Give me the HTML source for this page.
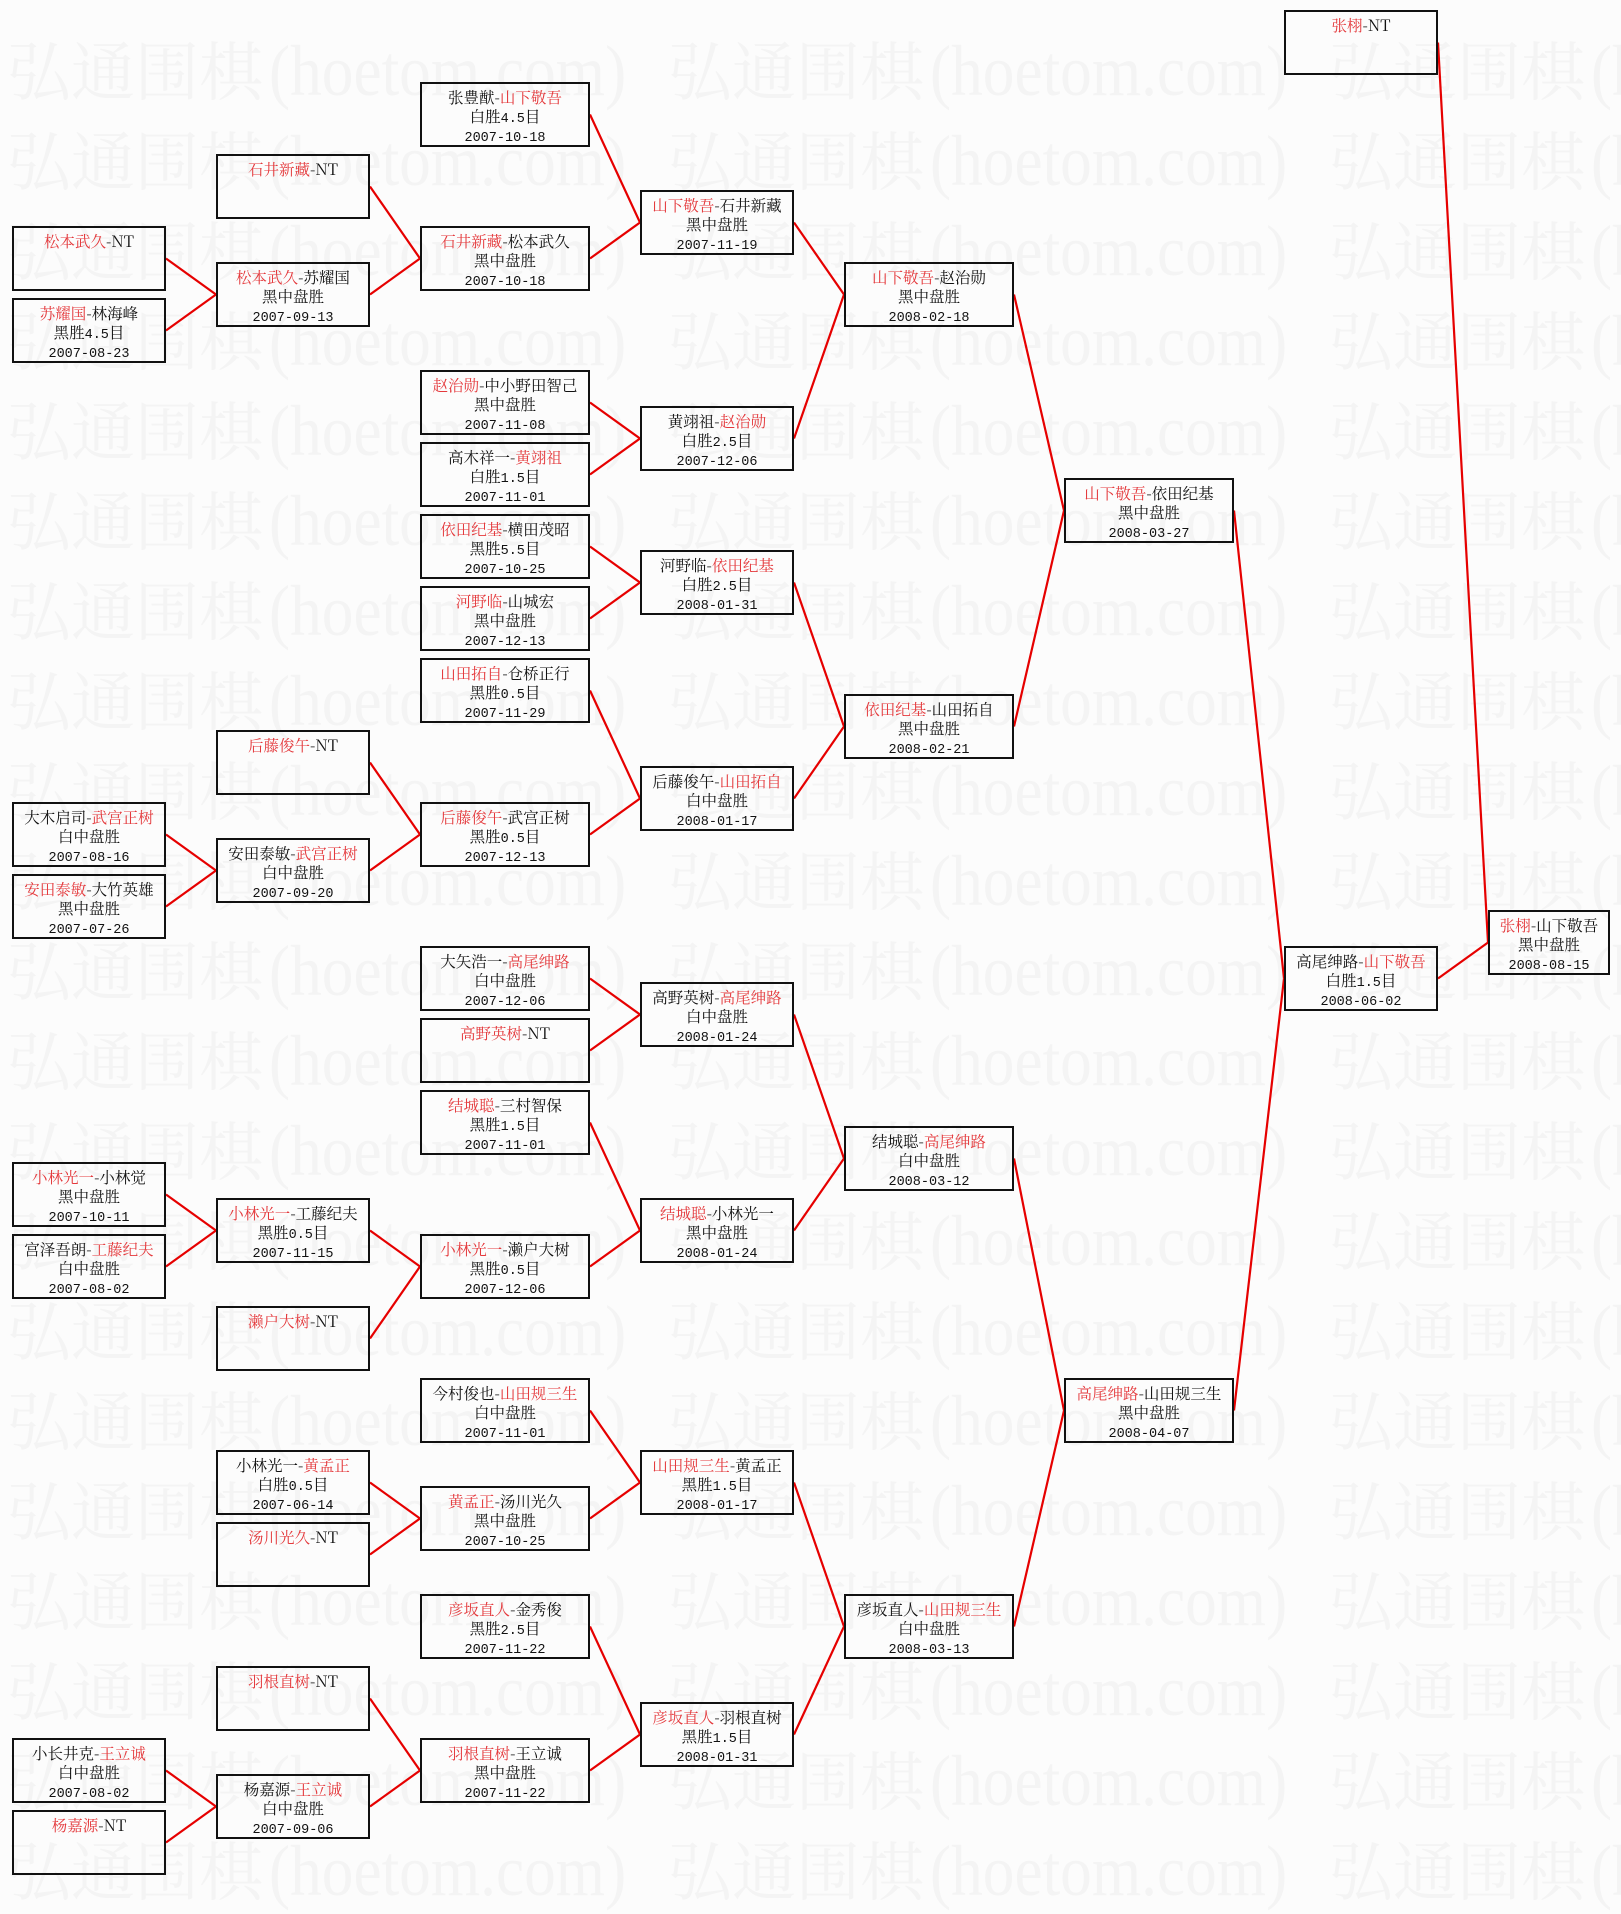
<!DOCTYPE html>
<html><head><meta charset="utf-8">
<style>
html,body{margin:0;padding:0}
body{width:1621px;height:1885px;background:#fcfcfc;position:relative;overflow:hidden;font-family:"Noto Serif CJK SC","Liberation Serif",serif;}
.w{position:absolute;left:7px;white-space:nowrap;font-size:64px;line-height:64px;color:#f4f4f4;}
.w b{display:inline-block;width:661px;font-weight:normal;}
.w i{display:inline-block;font-style:normal;font-family:"Liberation Serif",serif;font-size:72px;transform:scaleX(0.88);transform-origin:0 50%;margin-left:6px;}
svg{position:absolute;left:0;top:0}
.b{position:absolute;height:65px;box-sizing:border-box;border:2px solid #111;text-align:center;font-size:15.5px;color:#111;white-space:nowrap;padding-top:4px;}
.b p{margin:0;height:19px;line-height:19px;}
r{color:#e4393c}
m{font-family:"Liberation Mono",monospace;font-size:13.5px}
.c0{left:12px;width:154px}.c1{left:216px;width:154px}.c2{left:420px;width:170px}.c3{left:640px;width:154px}
.c4{left:844px;width:170px}.c5{left:1064px;width:170px}.c6{left:1284px;width:154px}.c7{left:1488px;width:122px}
</style></head><body>

<div class="w" style="top:36px"><b>弘通围棋<i>(hoetom.com)</i></b><b>弘通围棋<i>(hoetom.com)</i></b><b>弘通围棋<i>(hoetom.com)</i></b></div>
<div class="w" style="top:126px"><b>弘通围棋<i>(hoetom.com)</i></b><b>弘通围棋<i>(hoetom.com)</i></b><b>弘通围棋<i>(hoetom.com)</i></b></div>
<div class="w" style="top:216px"><b>弘通围棋<i>(hoetom.com)</i></b><b>弘通围棋<i>(hoetom.com)</i></b><b>弘通围棋<i>(hoetom.com)</i></b></div>
<div class="w" style="top:306px"><b>弘通围棋<i>(hoetom.com)</i></b><b>弘通围棋<i>(hoetom.com)</i></b><b>弘通围棋<i>(hoetom.com)</i></b></div>
<div class="w" style="top:396px"><b>弘通围棋<i>(hoetom.com)</i></b><b>弘通围棋<i>(hoetom.com)</i></b><b>弘通围棋<i>(hoetom.com)</i></b></div>
<div class="w" style="top:486px"><b>弘通围棋<i>(hoetom.com)</i></b><b>弘通围棋<i>(hoetom.com)</i></b><b>弘通围棋<i>(hoetom.com)</i></b></div>
<div class="w" style="top:576px"><b>弘通围棋<i>(hoetom.com)</i></b><b>弘通围棋<i>(hoetom.com)</i></b><b>弘通围棋<i>(hoetom.com)</i></b></div>
<div class="w" style="top:666px"><b>弘通围棋<i>(hoetom.com)</i></b><b>弘通围棋<i>(hoetom.com)</i></b><b>弘通围棋<i>(hoetom.com)</i></b></div>
<div class="w" style="top:756px"><b>弘通围棋<i>(hoetom.com)</i></b><b>弘通围棋<i>(hoetom.com)</i></b><b>弘通围棋<i>(hoetom.com)</i></b></div>
<div class="w" style="top:846px"><b>弘通围棋<i>(hoetom.com)</i></b><b>弘通围棋<i>(hoetom.com)</i></b><b>弘通围棋<i>(hoetom.com)</i></b></div>
<div class="w" style="top:936px"><b>弘通围棋<i>(hoetom.com)</i></b><b>弘通围棋<i>(hoetom.com)</i></b><b>弘通围棋<i>(hoetom.com)</i></b></div>
<div class="w" style="top:1026px"><b>弘通围棋<i>(hoetom.com)</i></b><b>弘通围棋<i>(hoetom.com)</i></b><b>弘通围棋<i>(hoetom.com)</i></b></div>
<div class="w" style="top:1116px"><b>弘通围棋<i>(hoetom.com)</i></b><b>弘通围棋<i>(hoetom.com)</i></b><b>弘通围棋<i>(hoetom.com)</i></b></div>
<div class="w" style="top:1206px"><b>弘通围棋<i>(hoetom.com)</i></b><b>弘通围棋<i>(hoetom.com)</i></b><b>弘通围棋<i>(hoetom.com)</i></b></div>
<div class="w" style="top:1296px"><b>弘通围棋<i>(hoetom.com)</i></b><b>弘通围棋<i>(hoetom.com)</i></b><b>弘通围棋<i>(hoetom.com)</i></b></div>
<div class="w" style="top:1386px"><b>弘通围棋<i>(hoetom.com)</i></b><b>弘通围棋<i>(hoetom.com)</i></b><b>弘通围棋<i>(hoetom.com)</i></b></div>
<div class="w" style="top:1476px"><b>弘通围棋<i>(hoetom.com)</i></b><b>弘通围棋<i>(hoetom.com)</i></b><b>弘通围棋<i>(hoetom.com)</i></b></div>
<div class="w" style="top:1566px"><b>弘通围棋<i>(hoetom.com)</i></b><b>弘通围棋<i>(hoetom.com)</i></b><b>弘通围棋<i>(hoetom.com)</i></b></div>
<div class="w" style="top:1656px"><b>弘通围棋<i>(hoetom.com)</i></b><b>弘通围棋<i>(hoetom.com)</i></b><b>弘通围棋<i>(hoetom.com)</i></b></div>
<div class="w" style="top:1746px"><b>弘通围棋<i>(hoetom.com)</i></b><b>弘通围棋<i>(hoetom.com)</i></b><b>弘通围棋<i>(hoetom.com)</i></b></div>
<div class="w" style="top:1836px"><b>弘通围棋<i>(hoetom.com)</i></b><b>弘通围棋<i>(hoetom.com)</i></b><b>弘通围棋<i>(hoetom.com)</i></b></div>

<svg width="1621" height="1885" viewBox="0 0 1621 1885">
<path fill="none" stroke="#e60000" stroke-width="2.2" d="
M166 258.5L216 294.5M166 330.5L216 294.5M166 834.5L216 870.5M166 906.5L216 870.5M166 1194.5L216 1230.5M166 1266.5L216 1230.5M166 1770.5L216 1806.5M166 1842.5L216 1806.5
M370 186.5L420 258.5M370 294.5L420 258.5M370 762.5L420 834.5M370 870.5L420 834.5M370 1230.5L420 1266.5M370 1338.5L420 1266.5M370 1482.5L420 1518.5M370 1554.5L420 1518.5M370 1698.5L420 1770.5M370 1806.5L420 1770.5
M590 114.5L640 222.5M590 258.5L640 222.5M590 402.5L640 438.5M590 474.5L640 438.5M590 546.5L640 582.5M590 618.5L640 582.5M590 690.5L640 798.5M590 834.5L640 798.5M590 978.5L640 1014.5M590 1050.5L640 1014.5M590 1122.5L640 1230.5M590 1266.5L640 1230.5M590 1410.5L640 1482.5M590 1518.5L640 1482.5M590 1626.5L640 1734.5M590 1770.5L640 1734.5
M794 222.5L844 294.5M794 438.5L844 294.5M794 582.5L844 726.5M794 798.5L844 726.5M794 1014.5L844 1158.5M794 1230.5L844 1158.5M794 1482.5L844 1626.5M794 1734.5L844 1626.5
M1014 294.5L1064 510.5M1014 726.5L1064 510.5M1014 1158.5L1064 1410.5M1014 1626.5L1064 1410.5
M1234 510.5L1284 978.5M1234 1410.5L1284 978.5
M1438 42.5L1488 942.5M1438 978.5L1488 942.5"/>
</svg>

<!-- column 0 -->
<div class="b c0" style="top:226px"><p><r>松本武久</r>-NT</p></div>
<div class="b c0" style="top:298px"><p><r>苏耀国</r>-林海峰</p><p>黑胜<m>4.5</m>目</p><p><m>2007-08-23</m></p></div>
<div class="b c0" style="top:802px"><p>大木启司-<r>武宫正树</r></p><p>白中盘胜</p><p><m>2007-08-16</m></p></div>
<div class="b c0" style="top:874px"><p><r>安田泰敏</r>-大竹英雄</p><p>黑中盘胜</p><p><m>2007-07-26</m></p></div>
<div class="b c0" style="top:1162px"><p><r>小林光一</r>-小林觉</p><p>黑中盘胜</p><p><m>2007-10-11</m></p></div>
<div class="b c0" style="top:1234px"><p>宫泽吾朗-<r>工藤纪夫</r></p><p>白中盘胜</p><p><m>2007-08-02</m></p></div>
<div class="b c0" style="top:1738px"><p>小长井克-<r>王立诚</r></p><p>白中盘胜</p><p><m>2007-08-02</m></p></div>
<div class="b c0" style="top:1810px"><p><r>杨嘉源</r>-NT</p></div>

<!-- column 1 -->
<div class="b c1" style="top:154px"><p><r>石井新藏</r>-NT</p></div>
<div class="b c1" style="top:262px"><p><r>松本武久</r>-苏耀国</p><p>黑中盘胜</p><p><m>2007-09-13</m></p></div>
<div class="b c1" style="top:730px"><p><r>后藤俊午</r>-NT</p></div>
<div class="b c1" style="top:838px"><p>安田泰敏-<r>武宫正树</r></p><p>白中盘胜</p><p><m>2007-09-20</m></p></div>
<div class="b c1" style="top:1198px"><p><r>小林光一</r>-工藤纪夫</p><p>黑胜<m>0.5</m>目</p><p><m>2007-11-15</m></p></div>
<div class="b c1" style="top:1306px"><p><r>濑户大树</r>-NT</p></div>
<div class="b c1" style="top:1450px"><p>小林光一-<r>黄孟正</r></p><p>白胜<m>0.5</m>目</p><p><m>2007-06-14</m></p></div>
<div class="b c1" style="top:1522px"><p><r>汤川光久</r>-NT</p></div>
<div class="b c1" style="top:1666px"><p><r>羽根直树</r>-NT</p></div>
<div class="b c1" style="top:1774px"><p>杨嘉源-<r>王立诚</r></p><p>白中盘胜</p><p><m>2007-09-06</m></p></div>

<!-- column 2 -->
<div class="b c2" style="top:82px"><p>张豊猷-<r>山下敬吾</r></p><p>白胜<m>4.5</m>目</p><p><m>2007-10-18</m></p></div>
<div class="b c2" style="top:226px"><p><r>石井新藏</r>-松本武久</p><p>黑中盘胜</p><p><m>2007-10-18</m></p></div>
<div class="b c2" style="top:370px"><p><r>赵治勋</r>-中小野田智己</p><p>黑中盘胜</p><p><m>2007-11-08</m></p></div>
<div class="b c2" style="top:442px"><p>高木祥一-<r>黄翊祖</r></p><p>白胜<m>1.5</m>目</p><p><m>2007-11-01</m></p></div>
<div class="b c2" style="top:514px"><p><r>依田纪基</r>-横田茂昭</p><p>黑胜<m>5.5</m>目</p><p><m>2007-10-25</m></p></div>
<div class="b c2" style="top:586px"><p><r>河野临</r>-山城宏</p><p>黑中盘胜</p><p><m>2007-12-13</m></p></div>
<div class="b c2" style="top:658px"><p><r>山田拓自</r>-仓桥正行</p><p>黑胜<m>0.5</m>目</p><p><m>2007-11-29</m></p></div>
<div class="b c2" style="top:802px"><p><r>后藤俊午</r>-武宫正树</p><p>黑胜<m>0.5</m>目</p><p><m>2007-12-13</m></p></div>
<div class="b c2" style="top:946px"><p>大矢浩一-<r>高尾绅路</r></p><p>白中盘胜</p><p><m>2007-12-06</m></p></div>
<div class="b c2" style="top:1018px"><p><r>高野英树</r>-NT</p></div>
<div class="b c2" style="top:1090px"><p><r>结城聪</r>-三村智保</p><p>黑胜<m>1.5</m>目</p><p><m>2007-11-01</m></p></div>
<div class="b c2" style="top:1234px"><p><r>小林光一</r>-濑户大树</p><p>黑胜<m>0.5</m>目</p><p><m>2007-12-06</m></p></div>
<div class="b c2" style="top:1378px"><p>今村俊也-<r>山田规三生</r></p><p>白中盘胜</p><p><m>2007-11-01</m></p></div>
<div class="b c2" style="top:1486px"><p><r>黄孟正</r>-汤川光久</p><p>黑中盘胜</p><p><m>2007-10-25</m></p></div>
<div class="b c2" style="top:1594px"><p><r>彦坂直人</r>-金秀俊</p><p>黑胜<m>2.5</m>目</p><p><m>2007-11-22</m></p></div>
<div class="b c2" style="top:1738px"><p><r>羽根直树</r>-王立诚</p><p>黑中盘胜</p><p><m>2007-11-22</m></p></div>

<!-- column 3 -->
<div class="b c3" style="top:190px"><p><r>山下敬吾</r>-石井新藏</p><p>黑中盘胜</p><p><m>2007-11-19</m></p></div>
<div class="b c3" style="top:406px"><p>黄翊祖-<r>赵治勋</r></p><p>白胜<m>2.5</m>目</p><p><m>2007-12-06</m></p></div>
<div class="b c3" style="top:550px"><p>河野临-<r>依田纪基</r></p><p>白胜<m>2.5</m>目</p><p><m>2008-01-31</m></p></div>
<div class="b c3" style="top:766px"><p>后藤俊午-<r>山田拓自</r></p><p>白中盘胜</p><p><m>2008-01-17</m></p></div>
<div class="b c3" style="top:982px"><p>高野英树-<r>高尾绅路</r></p><p>白中盘胜</p><p><m>2008-01-24</m></p></div>
<div class="b c3" style="top:1198px"><p><r>结城聪</r>-小林光一</p><p>黑中盘胜</p><p><m>2008-01-24</m></p></div>
<div class="b c3" style="top:1450px"><p><r>山田规三生</r>-黄孟正</p><p>黑胜<m>1.5</m>目</p><p><m>2008-01-17</m></p></div>
<div class="b c3" style="top:1702px"><p><r>彦坂直人</r>-羽根直树</p><p>黑胜<m>1.5</m>目</p><p><m>2008-01-31</m></p></div>

<!-- column 4 -->
<div class="b c4" style="top:262px"><p><r>山下敬吾</r>-赵治勋</p><p>黑中盘胜</p><p><m>2008-02-18</m></p></div>
<div class="b c4" style="top:694px"><p><r>依田纪基</r>-山田拓自</p><p>黑中盘胜</p><p><m>2008-02-21</m></p></div>
<div class="b c4" style="top:1126px"><p>结城聪-<r>高尾绅路</r></p><p>白中盘胜</p><p><m>2008-03-12</m></p></div>
<div class="b c4" style="top:1594px"><p>彦坂直人-<r>山田规三生</r></p><p>白中盘胜</p><p><m>2008-03-13</m></p></div>

<!-- column 5 -->
<div class="b c5" style="top:478px"><p><r>山下敬吾</r>-依田纪基</p><p>黑中盘胜</p><p><m>2008-03-27</m></p></div>
<div class="b c5" style="top:1378px"><p><r>高尾绅路</r>-山田规三生</p><p>黑中盘胜</p><p><m>2008-04-07</m></p></div>

<!-- column 6 -->
<div class="b c6" style="top:10px"><p><r>张栩</r>-NT</p></div>
<div class="b c6" style="top:946px"><p>高尾绅路-<r>山下敬吾</r></p><p>白胜<m>1.5</m>目</p><p><m>2008-06-02</m></p></div>

<!-- column 7 -->
<div class="b c7" style="top:910px"><p><r>张栩</r>-山下敬吾</p><p>黑中盘胜</p><p><m>2008-08-15</m></p></div>

</body></html>
